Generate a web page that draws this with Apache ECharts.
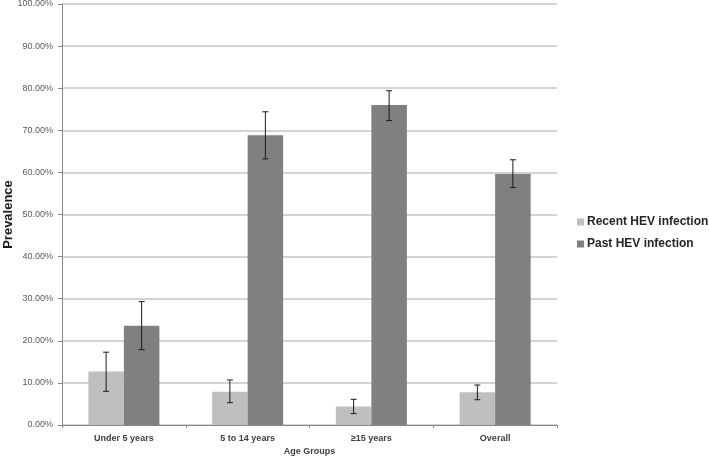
<!DOCTYPE html>
<html>
<head>
<meta charset="utf-8">
<script src="https://cdn.jsdelivr.net/npm/echarts@6/dist/echarts.min.js"></script>
<style>html,body{margin:0;padding:0;background:#fff;}#c{width:709px;height:459px;}</style>
</head>
<body>
<div id="c"></div>
<script>
var categories = ['Under 5 years', '5 to 14 years', '\u226515 years', 'Overall'];
var recentValues = [12.7, 7.9, 4.4, 7.8];
var recentLow = [8.0, 5.3, 2.7, 6.0];
var recentHigh = [17.3, 10.7, 6.1, 9.5];
var pastValues = [23.6, 68.8, 76.0, 59.6];
var pastLow = [17.9, 63.2, 72.3, 56.4];
var pastHigh = [29.3, 74.4, 79.4, 63.0];
var yTicks = [0, 10, 20, 30, 40, 50, 60, 70, 80, 90, 100];

var FONT = 'Liberation Sans';
var chart = echarts.init(document.getElementById('c'));

function errData(low, high) {
  return categories.map(function (c, i) { return [i, low[i], high[i]]; });
}
function makeErr(side) {
  return function (params, api) {
    var idx = api.value(0);
    var lo = api.coord([idx, api.value(1)]);
    var hi = api.coord([idx, api.value(2)]);
    var band = api.size([1, 0])[0];
    var barW = band * (1 - 0.426) / 2;
    var x = lo[0] + side * barW / 2;
    var cap = 3;
    var st = { stroke: '#1a1a1a', lineWidth: 1 };
    return {
      type: 'group',
      children: [
        { type: 'line', shape: { x1: x, y1: hi[1], x2: x, y2: lo[1] }, style: st },
        { type: 'line', shape: { x1: x - cap, y1: hi[1], x2: x + cap, y2: hi[1] }, style: st },
        { type: 'line', shape: { x1: x - cap, y1: lo[1], x2: x + cap, y2: lo[1] }, style: st }
      ]
    };
  };
}

chart.setOption({
  animation: false,
  textStyle: { fontFamily: FONT },
  grid: { left: 62, right: 152, top: 4, bottom: 34, containLabel: false, outerBoundsMode: 'none' },
  legend: {
    orient: 'vertical',
    left: 572,
    top: 211,
    icon: 'rect',
    itemWidth: 7,
    itemHeight: 7,
    itemGap: 10,
    data: ['Recent HEV infection', 'Past HEV infection'],
    textStyle: { fontFamily: FONT, fontSize: 12, fontWeight: 'bold', color: '#262626', padding: [0, 0, 0, -2] }
  },
  xAxis: {
    type: 'category',
    data: categories,
    name: 'Age Groups',
    nameLocation: 'middle',
    nameGap: 22,
    nameMoveOverlap: false,
    nameTextStyle: { fontFamily: FONT, fontSize: 9, fontWeight: 'bold', color: '#404040' },
    axisLine: { lineStyle: { color: '#878787', width: 1 } },
    axisTick: { show: true, length: 3, lineStyle: { color: '#878787' } },
    axisLabel: { fontFamily: FONT, fontSize: 9, fontWeight: 'bold', color: '#404040', margin: 9 },
    splitLine: { show: false }
  },
  yAxis: {
    type: 'value',
    min: 0,
    max: 100,
    interval: 10,
    name: 'Prevalence',
    nameLocation: 'middle',
    nameRotate: 90,
    nameGap: 47,
    nameMoveOverlap: false,
    nameTextStyle: { fontFamily: FONT, fontSize: 13, fontWeight: 'bold', color: '#1a1a1a' },
    axisLine: { show: true, lineStyle: { color: '#878787', width: 1 } },
    axisTick: { show: true, length: 4, lineStyle: { color: '#878787' } },
    axisLabel: {
      fontFamily: FONT, fontSize: 9, color: '#595959', margin: 9,
      formatter: function (v) { return yTicks.indexOf(v) >= 0 ? v.toFixed(2) + '%' : ''; }
    },
    splitLine: { show: true, lineStyle: { color: '#c4c4c4', width: 1.5 } }
  },
  series: [
    {
      name: 'Recent HEV infection',
      type: 'bar',
      data: recentValues,
      barGap: '0%',
      barCategoryGap: '42.6%',
      itemStyle: { color: '#bfbfbf' }
    },
    {
      name: 'Past HEV infection',
      type: 'bar',
      data: pastValues,
      barGap: '0%',
      barCategoryGap: '42.6%',
      itemStyle: { color: '#808080' }
    },
    {
      type: 'custom',
      renderItem: makeErr(-1),
      data: errData(recentLow, recentHigh),
      encode: { x: 0, y: [1, 2] },
      z: 10,
      silent: true
    },
    {
      type: 'custom',
      renderItem: makeErr(1),
      data: errData(pastLow, pastHigh),
      encode: { x: 0, y: [1, 2] },
      z: 10,
      silent: true
    }
  ]
});
</script>
</body>
</html>
